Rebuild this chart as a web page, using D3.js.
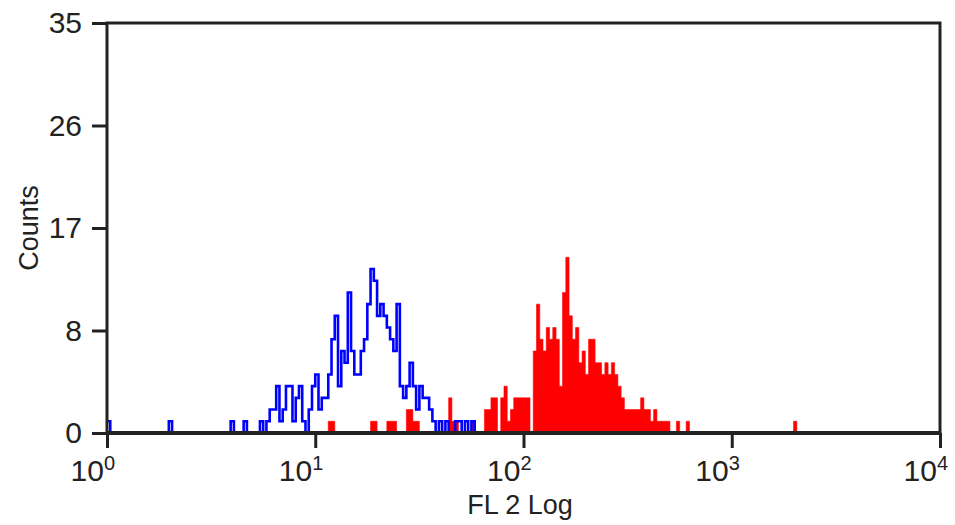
<!DOCTYPE html>
<html>
<head>
<meta charset="utf-8">
<script src="https://cdn.jsdelivr.net/npm/d3@7"></script>
<style>
  body { margin: 0; background: #fff; }
  text { font-family: "Liberation Sans", Arial, sans-serif; fill: #222; }
</style>
</head>
<body>
<script>
// histogram channels: 256 channels spread over 4 decades
var nChannels = 256;
var decades = 4;

// blue (control) counts, starting at channel 0
var blueStart = 0;
var blueCounts = [
  1,0,0,0,0,0,0,0,0,0, 0,0,0,0,0,0,0,0,0,1,
  0,0,0,0,0,0,0,0,0,0, 0,0,0,0,0,0,0,0,1,0,
  0,0,1,0,0,0,0,1,0,1, 2,2,4,1,2,4,4,1,3,4,
  1,0,2,4,5,2,3,3,5,8, 10,4,7,6,12,7,5,5,7,8,
  11,14,13,10,11,10,9,8,7,11, 4,3,4,6,4,2,4,3,3,2,
  1,0,1,0,1,0,0,1,1,0, 1,0,1,0
];

// red (stained) counts, starting at channel 68
var redStart = 68;
var redCounts = [
  1,1,0,0,0,0,0,0,0,0, 0,0,0,1,1,0,0,0,1,1,
  1,0,0,0,2,2,1,1,0,0, 0,0,0,0,0,0,0,3,1,1,
  0,0,0,0,1,0,0,0,2,2, 3,3,0,3,4,1,2,3,3,3,
  3,3,0,7,11,8,7,9,8,9, 8,4,12,15,10,8,9,6,7,5,
  8,8,6,6,5,6,5,6,5,4, 3,2,2,2,2,2,3,2,2,1,
  2,1,1,1,1,0,0,1,0,0, 1,0,0,0,0,0,0,0,0,0,
  0,0,0,0,0,0,0,0,0,0, 0,0,0,0,0,0,0,0,0,0,
  0,0,0,1
];

var yTickValues = [0, 8.75, 17.5, 26.25, 35];
var yTickLabels = ["0", "8", "17", "26", "35"];
var xTickExponents = [0, 1, 2, 3, 4];

var width = 955;
var height = 525;
var plotLeft = 107, plotRight = 940, plotTop = 23, plotBottom = 433;

var svg = d3.select("body").append("svg")
  .attr("width", width)
  .attr("height", height);

var x = d3.scaleLog().domain([1, 10000]).range([plotLeft, plotRight]);
var y = d3.scaleLinear().domain([0, 35]).range([plotBottom, plotTop]);

function edge(ch) {
  return Math.pow(10, ch * decades / nChannels);
}

// points for a step histogram: one per channel edge, closing at zero
function stepPoints(start, counts) {
  var pts = counts.map(function (c, i) { return [edge(start + i), c]; });
  pts.push([edge(start + counts.length), 0]);
  return pts;
}

// red filled histogram
var area = d3.area()
  .x(function (d) { return x(d[0]); })
  .y0(y(0))
  .y1(function (d) { return y(d[1]); })
  .curve(d3.curveStepAfter);

svg.append("path")
  .datum(stepPoints(redStart, redCounts))
  .attr("d", area)
  .attr("fill", "#ff0000")
  .attr("stroke", "#ff0000")
  .attr("stroke-width", 0.6);

// blue outline histogram
var line = d3.line()
  .x(function (d) { return x(d[0]); })
  .y(function (d) { return y(d[1]); })
  .curve(d3.curveStepAfter);

svg.append("path")
  .datum(stepPoints(blueStart, blueCounts))
  .attr("d", line)
  .attr("fill", "none")
  .attr("stroke", "#0000ff")
  .attr("stroke-width", 2.6);

// frame
svg.append("rect")
  .attr("x", plotLeft).attr("y", plotTop)
  .attr("width", plotRight - plotLeft).attr("height", plotBottom - plotTop)
  .attr("fill", "none")
  .attr("stroke", "#222")
  .attr("stroke-width", 3);

// heavier baseline so the zero runs of the outline stay hidden
svg.append("line")
  .attr("x1", plotLeft).attr("x2", plotRight)
  .attr("y1", y(0)).attr("y2", y(0))
  .attr("stroke", "#222")
  .attr("stroke-width", 4);

// y axis
var yAxis = svg.append("g")
  .attr("transform", "translate(" + plotLeft + ",0)")
  .call(d3.axisLeft(y)
    .tickValues(yTickValues)
    .tickSize(15)
    .tickPadding(10)
    .tickFormat(function (d, i) { return yTickLabels[i]; }));
yAxis.select(".domain").remove();
yAxis.selectAll("line").attr("stroke", "#222").attr("stroke-width", 3);
yAxis.selectAll("text").attr("font-size", 30).attr("fill", "#222")
  .attr("font-family", "Liberation Sans, Arial, sans-serif");

// x axis
var xAxis = svg.append("g")
  .attr("transform", "translate(0," + plotBottom + ")")
  .call(d3.axisBottom(x)
    .tickValues(xTickExponents.map(function (e) { return Math.pow(10, e); }))
    .tickSize(15)
    .tickFormat(""));
xAxis.select(".domain").remove();
xAxis.selectAll("line").attr("stroke", "#222").attr("stroke-width", 3);

var xl = svg.append("g").selectAll("text")
  .data(xTickExponents)
  .enter().append("text")
  .attr("x", function (e) { return x(Math.pow(10, e)) + 8; })
  .attr("y", 481)
  .attr("text-anchor", "end")
  .attr("font-size", 30);
xl.append("tspan").text("10");
xl.append("tspan")
  .attr("font-size", 20)
  .attr("dy", -11)
  .text(function (e) { return e; });

// axis titles
svg.append("text")
  .attr("x", 520)
  .attr("y", 514)
  .attr("text-anchor", "middle")
  .attr("font-size", 27)
  .text("FL 2 Log");

svg.append("text")
  .attr("transform", "translate(38,228) rotate(-90)")
  .attr("text-anchor", "middle")
  .attr("font-size", 27)
  .text("Counts");
</script>
</body>
</html>
